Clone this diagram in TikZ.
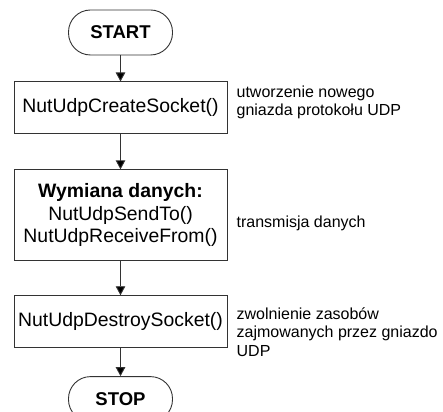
\documentclass[tikz,border=0pt]{standalone}
\usepackage{fontspec}
\setmainfont{Liberation Sans}
\usetikzlibrary{positioning,arrows.meta}

\begin{document}
\begin{tikzpicture}[x=1pt, y=-1pt, node distance=30pt,
                    flow/.style={draw=black!80, line width=0.9pt, -{Triangle[length=9pt,width=9.5pt]}},
                    term node/.style={draw=black!80, line width=0.9pt, rounded corners=22pt,
                                      minimum width=104pt, minimum height=45pt, inner sep=0pt,
                                      font=\fontsize{18.5}{22}\selectfont\bfseries},
                    proc node/.style={draw=black!80, line width=0.9pt, minimum width=213pt,
                                      inner sep=0pt, align=center,
                                      font=\fontsize{19.4}{22.5}\selectfont},
                    note node/.style={align=left, inner sep=0pt,
                                      font=\fontsize{16}{18.5}\selectfont}]

  \clip (0,0) rectangle (443,411);

  \node[term node] (start) at (120.5,32.5) {START};
  \node[proc node, minimum height=52pt] (create) [below=26pt of start] {NutUdpCreateSocket()};
  \node[proc node, minimum height=91pt] (exchange) [below=35pt of create]
       {\textbf{Wymiana danych:}\\NutUdpSendTo()\\NutUdpReceiveFrom()};
  \node[proc node, minimum height=52pt] (destroy) [below=34pt of exchange] {NutUdpDestroySocket()};
  \node[term node] (stop) [below=28pt of destroy] {STOP};

  % opisy po prawej
  \node[note node, anchor=north west] (createnote) at ([xshift=9pt,yshift=-4pt]create.north east)
       {utworzenie nowego\\gniazda protokołu UDP};
  \node[note node, anchor=base west] (exchangenote) at ([xshift=9pt,yshift=-12.5pt]exchange.east)
       {transmisja danych};
  \node[note node, anchor=north west] (destroynote) at ([xshift=9pt,yshift=-12pt]destroy.north east)
       {zwolnienie zasobów\\zajmowanych przez gniazdo\\UDP};

  \path[flow]
    (start) edge (create)
    (create) edge (exchange)
    (exchange) edge (destroy)
    (destroy) edge (stop);
\end{tikzpicture}
\end{document}
